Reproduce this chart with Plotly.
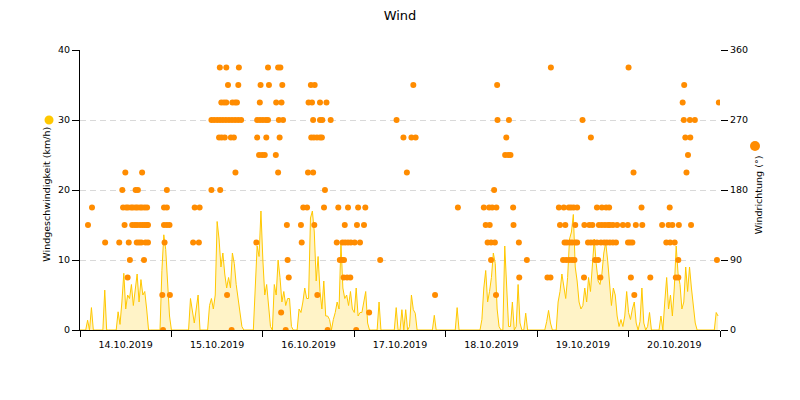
import pandas as pd
import plotly.graph_objects as go

# ---------------- data ----------------
start = pd.Timestamp("2019-10-14 00:00")
end = pd.Timestamp("2019-10-21 00:00")

# wind speed (km/h), half-hourly, one list per day
speed_d1 = [0, 0, 0, 0, 1.4, 0, 3.2, 0, 0, 0, 0, 0, 0,
            5.7, 0, 0, 0, 0, 0, 0,
            2.6, 0.8, 4, 8.1, 3, 5, 4.5, 6.5, 3.5, 6, 8, 4, 7.2, 5, 5.5, 3,
            0, 0, 0, 0, 0, 0, 0,
            8.5, 13.6, 11.5, 7, 2]
speed_d2 = [0, 0, 0, 0, 0, 0, 0, 0, 0, 0,
            4.5, 2.9, 1, 3, 5,
            0, 0, 0, 0, 0,
            3.5, 4.5, 3, 5, 15.5, 13, 9, 11, 8, 6, 7.5, 6, 11, 9.5, 6.5, 4.5, 2.5, 0.5,
            0, 0, 0, 0, 0, 0,
            6, 12, 10.5, 17]
speed_d3 = [10, 5, 6.5, 4, 0.5, 0,
            6.5, 5, 10, 7.5, 4, 5.5, 3.5, 4.5, 4.5, 0.5,
            0, 0, 0,
            3, 2.5, 4, 6, 4.5, 4.5,
            16, 17, 14, 7, 10.5, 5.5, 3, 7, 2, 2, 1.5,
            0, 1.5, 2.5, 4, 3, 12.5, 6, 4.5, 5, 3.5, 5.5, 3]
speed_d4 = [2.5, 6, 2, 2.5, 2.5, 4, 5.5, 1,
            0, 0, 0, 0, 0,
            4,
            0, 0, 0, 0, 0, 0, 0, 0,
            3.2, 0, 0, 2.9, 0, 2.9, 0, 0.5, 5, 2.9, 2.4,
            0, 0, 0, 0, 0, 0, 0, 0, 0,
            2.1, 0, 0, 0, 0, 0]
speed_d5 = [0, 0, 0, 0, 0, 0, 3.2,
            0, 0, 0, 0, 0, 0, 0, 0, 0, 0, 0, 0,
            1.5, 6, 8.5, 4, 5.5, 7.5, 11, 9.5, 3, 0.5,
            0, 0,
            12, 7, 0.5, 0.5, 4, 0, 0.5, 6.5, 1, 0, 0, 2.4,
            0, 0, 0, 0, 0]
speed_d6 = [0, 0, 0, 0, 0, 1.2, 2.8, 1, 0, 0, 0,
            4, 5.5, 8, 6.5, 4.5, 7.5, 13, 14, 16.5, 9,
            7, 4, 3, 3.5, 6, 4, 7.5, 5.5, 9, 13,
            9.5, 7, 6.5, 8, 11, 12.5, 10, 7, 3.5, 6,
            5, 2, 0.5, 1.5, 0.5, 2, 5.5]
speed_d7 = [2.5, 1.5, 3, 4, 1, 0, 1.2, 6, 1, 0, 0.5, 2.5,
            0, 0, 0, 0, 0,
            2, 0,
            4, 7.5, 3, 5, 2, 6, 12, 8, 6.5, 3, 4, 9, 5.5, 9, 6, 3.5, 1,
            0, 0, 0, 0, 0, 0, 0, 0, 0, 0,
            2.5, 2]

# wind direction (deg): hours after 14.10.2019 00:00 at which each direction was observed
dir_0 = [21.8, 39.8, 54.0, 65.0, 72.5]
dir_22_5 = [52.8, 75.9]
dir_45 = [21.6, 23.6, 38.6, 62.3, 93.2, 109.2, 145.5]
dir_67_5 = [12.5, 54.8, 69.2, 70.1, 70.95, 115.3, 122.7, 123.5, 132.3, 136.6,
            144.6, 149.7, 156.4, 157.05]
dir_90 = [13.1, 16.8, 54.5, 68.2, 68.8, 69.3, 78.8, 107.9, 117.3, 126.8, 127.6,
          128.4, 129.15, 129.8, 135.2, 136.0, 157.05, 167.2]
dir_112_5 = [6.6, 10.3, 12.8, 14.9, 15.5, 16.1, 17.2, 17.85, 22.2, 29.7, 31.2,
             46.3, 58.2, 67.4, 68.9, 69.6, 70.35, 71.1, 72.1, 73.5, 107.0, 107.9,
             108.9, 115.2, 127.2, 127.8, 128.6, 129.2, 130.0, 130.5, 133.35, 134.1,
             134.9, 135.7, 136.75, 137.6, 138.3, 139.1, 139.9, 140.7, 143.85, 144.4,
             145.0, 153.9, 154.9, 156.1]
dir_135 = [2.1, 11.7, 13.7, 14.4, 15.0, 15.75, 16.4, 17.0, 17.6, 17.85, 22.05,
           22.8, 23.5, 54.3, 58.0, 61.5, 69.5, 72.7, 74.55, 106.5, 107.55, 113.8,
           126.0, 127.4, 130.0, 132.4, 133.7, 134.5, 136.2, 137.0, 137.8, 138.6,
           139.1, 139.9, 141.0, 142.5, 143.8, 145.9, 147.6, 152.8, 154.5, 155.5,
           157.2, 160.4]
dir_157_5 = [3.15, 11.3, 12.1, 12.6, 13.4, 13.9, 14.6, 15.1, 15.8, 16.3, 17.0, 17.6,
             22.05, 22.8, 30.1, 31.4, 58.6, 59.6, 64.05, 67.8, 70.35, 73.0, 74.9,
             99.2, 106.0, 107.4, 108.2, 109.3, 113.7, 125.7, 127.0, 128.3, 128.9,
             129.6, 130.5, 135.7, 137.0, 138.1, 138.9, 147.4, 154.8]
dir_180 = [11.1, 14.6, 15.2, 22.8, 34.5, 36.8, 64.3, 108.7]
dir_202_5 = [11.9, 16.3, 40.8, 52.0, 59.85, 61.2, 85.8, 145.3, 159.2]
dir_225 = [47.0, 47.8, 48.5, 51.4, 111.6, 112.4, 113.0, 159.6]
dir_247_5 = [36.5, 37.2, 38.0, 39.6, 40.4, 46.5, 48.9, 52.4, 60.7, 61.4, 62.2, 63.0,
             63.5, 84.9, 87.0, 88.1, 111.9, 134.1, 158.9, 160.2]
dir_270 = [34.5, 35.2, 36.0, 36.75, 37.5, 38.3, 39.1, 39.9, 40.7, 41.5, 42.3, 46.5,
           47.25, 48.0, 48.8, 49.35, 52.2, 53.3, 61.2, 63.0, 63.6, 65.8, 83.1, 109.6,
           112.6, 131.9, 158.5, 160.1, 161.4]
dir_292_5 = [37.1, 37.8, 38.4, 40.0, 40.7, 41.2, 47.2, 51.5, 52.9, 60.0, 60.9, 63.0,
             64.7, 158.2, 167.7]
dir_315 = [38.85, 41.55, 47.4, 49.6, 53.1, 60.6, 61.6, 87.5, 109.5, 158.6]
dir_337_5 = [36.7, 38.4, 41.7, 49.35, 52.0, 52.6, 123.6, 144.0]

dir_levels = [0, 22.5, 45, 67.5, 90, 112.5, 135, 157.5, 180, 202.5, 225, 247.5,
              270, 292.5, 315, 337.5]
dir_hours = [dir_0, dir_22_5, dir_45, dir_67_5, dir_90, dir_112_5, dir_135, dir_157_5,
             dir_180, dir_202_5, dir_225, dir_247_5, dir_270, dir_292_5, dir_315,
             dir_337_5]

speed_title = "Windgeschwindigkeit (km/h)"
dir_title = "Windrichtung (°)"

# ---------------- build ----------------
speed_kmh = speed_d1 + speed_d2 + speed_d3 + speed_d4 + speed_d5 + speed_d6 + speed_d7
speed_time = pd.date_range(start, periods=len(speed_kmh), freq="30min")

dx, dy = [], []
for lvl, hrs in zip(dir_levels, dir_hours):
    for h in hrs:
        dx.append(start + pd.Timedelta(hours=h))
        dy.append(lvl)
order = sorted(range(len(dx)), key=lambda i: dx[i])
dx = [dx[i] for i in order]
dy = [dy[i] for i in order]

YEL = "#FFC800"
ORA = "#FF8C00"
FONT = "DejaVu Sans"

# page has an 8px body margin: figure is 784x384 so it fills the 800x400 window
W, H = 784, 384

fig = go.Figure()
fig.add_trace(go.Scatter(
    x=speed_time, y=speed_kmh, mode="lines",
    line=dict(color=YEL, width=1),
    fill="tozeroy", fillcolor="rgba(255,200,0,0.22)",
    name=speed_title, yaxis="y"))
fig.add_trace(go.Scatter(
    x=dx, y=dy, mode="markers",
    marker=dict(color=ORA, size=6, line=dict(width=0)),
    name=dir_title, yaxis="y2"))

fig.update_layout(
    width=W, height=H,
    margin=dict(l=72, r=72, t=42, b=62),
    paper_bgcolor="white", plot_bgcolor="white",
    showlegend=False,
    font=dict(family=FONT, size=9.5, color="#000000"),
    title=dict(text="Wind", x=0.5, xanchor="center", y=1 - 7 / H, yanchor="middle",
               yref="container", font=dict(family=FONT, size=13, color="#000000")),
    xaxis=dict(
        type="date", range=[start, end],
        tick0=start, dtick=86400000, tickformat="%d.%m.%Y", ticklabelmode="period",
        ticks="outside", ticklen=6, tickcolor="#000000", tickwidth=1,
        showline=True, linecolor="#000000", linewidth=1,
        showgrid=False, zeroline=False,
        tickfont=dict(family=FONT, size=9.5, color="#000000")),
    yaxis=dict(
        range=[0, 40], tickvals=[0, 10, 20, 30, 40],
        ticks="outside", ticklen=7, tickcolor="#000000", tickwidth=1,
        showline=True, linecolor="#000000", linewidth=1,
        showgrid=True, gridcolor="#d9d9d9", gridwidth=1, griddash="6px,4px",
        zeroline=False,
        tickfont=dict(family=FONT, size=9.5, color="#000000")),
    yaxis2=dict(
        range=[0, 360], tickvals=[0, 90, 180, 270, 360],
        overlaying="y", side="right",
        ticks="outside", ticklen=7, tickcolor="#000000", tickwidth=1,
        showline=False, showgrid=False, zeroline=False,
        tickfont=dict(family=FONT, size=9.5, color="#000000")),
    annotations=[
        dict(text=speed_title, xref="paper", yref="paper", x=-0.052, y=0.486,
             textangle=-90, showarrow=False, xanchor="center", yanchor="middle",
             font=dict(family=FONT, size=9.5, color="#000000")),
        dict(text=dir_title, xref="paper", yref="paper", x=1.0598, y=0.482,
             textangle=-90, showarrow=False, xanchor="center", yanchor="middle",
             font=dict(family=FONT, size=9.5, color="#000000")),
    ],
    shapes=[
        dict(type="circle", xref="paper", yref="paper",
             xsizemode="pixel", ysizemode="pixel",
             xanchor=-0.0484, yanchor=0.75, x0=-4.5, x1=4.5, y0=-4.5, y1=4.5,
             fillcolor=YEL, line=dict(width=0)),
        dict(type="circle", xref="paper", yref="paper",
             xsizemode="pixel", ysizemode="pixel",
             xanchor=1.0547, yanchor=0.657, x0=-5, x1=5, y0=-5, y1=5,
             fillcolor=ORA, line=dict(width=0)),
    ],
)

fig.write_html("out.html")
